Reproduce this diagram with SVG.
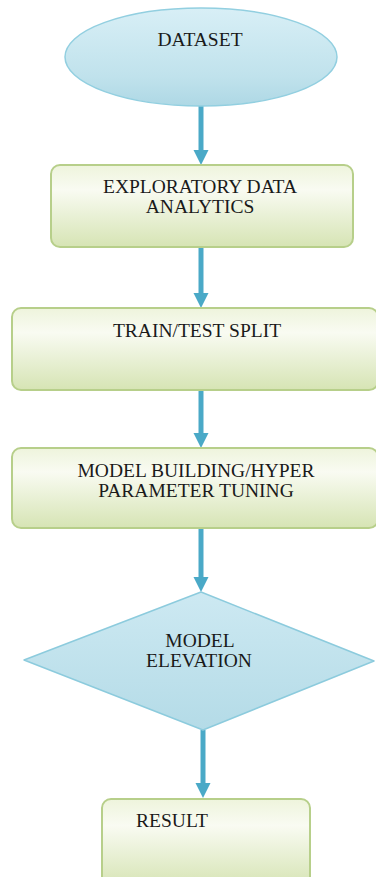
<svg xmlns="http://www.w3.org/2000/svg" width="376" height="877" viewBox="0 0 376 877">
<defs>
<linearGradient id="gBlue" x1="0" y1="0" x2="0" y2="1">
<stop offset="0" stop-color="#d8eff6"/>
<stop offset="0.7" stop-color="#c0e2ec"/>
<stop offset="1" stop-color="#aed8e5"/>
</linearGradient>
<linearGradient id="gGreen" x1="0" y1="0" x2="0" y2="1">
<stop offset="0" stop-color="#eef4dc"/>
<stop offset="0.3" stop-color="#f9fbf2"/>
<stop offset="1" stop-color="#d6e4b4"/>
</linearGradient>
<linearGradient id="gDia" x1="0" y1="0" x2="0" y2="1">
<stop offset="0" stop-color="#cde9f2"/>
<stop offset="1" stop-color="#b4dbe7"/>
</linearGradient>
</defs>
<style>
.lbl{font-family:'Liberation Serif','Times New Roman',serif;font-size:19.5px;fill:#1a1a1a;text-anchor:middle}
.box{fill:url(#gGreen);stroke:#b7cf8a;stroke-width:2}
.conn{stroke:#4aa9c7;stroke-width:5;fill:none}
.head{fill:#4aa9c7}
</style>
<g id="connectors">
<line class="conn" x1="201" y1="106" x2="201" y2="152"/>
<path class="head" d="M193.5,150 L208.5,150 L201,165 Z"/>
<line class="conn" x1="201" y1="247" x2="201" y2="295"/>
<path class="head" d="M193.5,293 L208.5,293 L201,308 Z"/>
<line class="conn" x1="201" y1="390" x2="201" y2="435"/>
<path class="head" d="M193.5,433 L208.5,433 L201,448 Z"/>
<line class="conn" x1="201" y1="528" x2="201" y2="579"/>
<path class="head" d="M193.5,577 L208.5,577 L201,592 Z"/>
<line class="conn" x1="203" y1="730" x2="203" y2="785"/>
<path class="head" d="M195.5,783 L210.5,783 L203,798 Z"/>
</g>
<g id="dataset">
<ellipse cx="201" cy="57" rx="136" ry="49" fill="url(#gBlue)" stroke="#92cfe0" stroke-width="1.5"/>
<text class="lbl" x="200" y="46">DATASET</text>
</g>
<g id="eda">
<rect class="box" x="51" y="165" width="302" height="82" rx="9"/>
<text class="lbl" x="200" y="193">EXPLORATORY DATA</text>
<text class="lbl" x="200" y="213">ANALYTICS</text>
</g>
<g id="split">
<rect class="box" x="12" y="308" width="366" height="82" rx="9"/>
<text class="lbl" x="197" y="337">TRAIN/TEST SPLIT</text>
</g>
<g id="model">
<rect class="box" x="12" y="448" width="366" height="80" rx="9"/>
<text class="lbl" x="196" y="477">MODEL BUILDING/HYPER</text>
<text class="lbl" x="196" y="497">PARAMETER TUNING</text>
</g>
<g id="elevation">
<path d="M201,592 L374,661 L203,730 L24,660 Z" fill="url(#gDia)" stroke="#8ccbdd" stroke-width="1.5" stroke-linejoin="round"/>
<text class="lbl" x="200" y="647">MODEL</text>
<text class="lbl" x="199" y="667">ELEVATION</text>
</g>
<g id="result">
<rect class="box" x="102" y="799" width="208" height="88" rx="9"/>
<text class="lbl" x="172" y="827">RESULT</text>
</g>
</svg>
